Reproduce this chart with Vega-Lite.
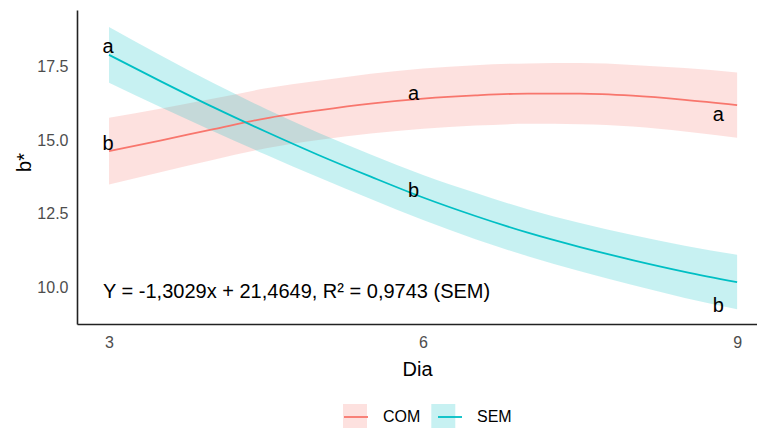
{
  "$schema": "https://vega.github.io/schema/vega-lite/v6.json",
  "width": 680,
  "height": 314,
  "autosize": {"type": "none"},
  "padding": {"left": 77, "top": 10, "right": 0, "bottom": 105},
  "background": "white",
  "config": {
    "view": {"stroke": null},
    "font": "Liberation Sans"
  },
  "datasets": {
    "curvas": [
      {"grupo": "COM", "dia": 3.0, "b": 14.63, "lo": 13.49, "hi": 15.77},
      {"grupo": "COM", "dia": 3.5, "b": 15.00, "lo": 13.92, "hi": 16.08},
      {"grupo": "COM", "dia": 4.0, "b": 15.38, "lo": 14.34, "hi": 16.42},
      {"grupo": "COM", "dia": 4.5, "b": 15.75, "lo": 14.73, "hi": 16.77},
      {"grupo": "COM", "dia": 5.0, "b": 16.02, "lo": 15.01, "hi": 17.03},
      {"grupo": "COM", "dia": 5.5, "b": 16.25, "lo": 15.23, "hi": 17.27},
      {"grupo": "COM", "dia": 6.0, "b": 16.42, "lo": 15.39, "hi": 17.45},
      {"grupo": "COM", "dia": 6.5, "b": 16.53, "lo": 15.50, "hi": 17.56},
      {"grupo": "COM", "dia": 7.0, "b": 16.59, "lo": 15.56, "hi": 17.62},
      {"grupo": "COM", "dia": 7.5, "b": 16.59, "lo": 15.55, "hi": 17.63},
      {"grupo": "COM", "dia": 8.0, "b": 16.52, "lo": 15.47, "hi": 17.57},
      {"grupo": "COM", "dia": 8.5, "b": 16.38, "lo": 15.30, "hi": 17.46},
      {"grupo": "COM", "dia": 9.0, "b": 16.20, "lo": 15.09, "hi": 17.31},
      {"grupo": "SEM", "dia": 3.0, "b": 17.91, "lo": 16.96, "hi": 18.86},
      {"grupo": "SEM", "dia": 3.5, "b": 17.00, "lo": 16.12, "hi": 17.88},
      {"grupo": "SEM", "dia": 4.0, "b": 16.12, "lo": 15.30, "hi": 16.94},
      {"grupo": "SEM", "dia": 4.5, "b": 15.29, "lo": 14.51, "hi": 16.07},
      {"grupo": "SEM", "dia": 5.0, "b": 14.50, "lo": 13.74, "hi": 15.26},
      {"grupo": "SEM", "dia": 5.5, "b": 13.76, "lo": 13.00, "hi": 14.52},
      {"grupo": "SEM", "dia": 6.0, "b": 13.05, "lo": 12.28, "hi": 13.82},
      {"grupo": "SEM", "dia": 6.5, "b": 12.42, "lo": 11.63, "hi": 13.21},
      {"grupo": "SEM", "dia": 7.0, "b": 11.85, "lo": 11.05, "hi": 12.65},
      {"grupo": "SEM", "dia": 7.5, "b": 11.36, "lo": 10.54, "hi": 12.18},
      {"grupo": "SEM", "dia": 8.0, "b": 10.92, "lo": 10.07, "hi": 11.77},
      {"grupo": "SEM", "dia": 8.5, "b": 10.52, "lo": 9.63, "hi": 11.41},
      {"grupo": "SEM", "dia": 9.0, "b": 10.17, "lo": 9.24, "hi": 11.10}
    ],
    "letras": [
      {"grupo": "SEM", "dia": 2.99, "b": 17.97, "letra": "a"},
      {"grupo": "COM", "dia": 2.99, "b": 14.66, "letra": "b"},
      {"grupo": "COM", "dia": 5.91, "b": 16.36, "letra": "a"},
      {"grupo": "SEM", "dia": 5.91, "b": 13.08, "letra": "b"},
      {"grupo": "COM", "dia": 8.82, "b": 15.65, "letra": "a"},
      {"grupo": "SEM", "dia": 8.82, "b": 9.16, "letra": "b"}
    ],
    "equacao": [
      {"dia": 2.943, "b": 9.615, "texto": "Y = -1,3029x + 21,4649, R² = 0,9743 (SEM)"}
    ]
  },
  "encoding": {
    "x": {
      "field": "dia",
      "type": "quantitative",
      "scale": {"domain": [2.694, 9.19], "nice": false, "zero": false},
      "axis": {
        "title": "Dia",
        "values": [3, 6, 9],
        "grid": false,
        "ticks": false,
        "tickSize": 0,
        "domainColor": "#222222",
        "domainWidth": 1.6,
        "labelFontSize": 16,
        "labelColor": "#4d4d4d",
        "labelPadding": 10,
        "titleFontSize": 20,
        "titleFontWeight": "normal",
        "titleColor": "#000000",
        "titleBaseline": "alphabetic",
        "titleY": 51
      }
    },
    "y": {
      "field": "b",
      "type": "quantitative",
      "scale": {"domain": [8.74, 19.44], "nice": false, "zero": false},
      "axis": {
        "title": "b*",
        "values": [10, 12.5, 15, 17.5],
        "format": ".1f",
        "grid": false,
        "ticks": false,
        "tickSize": 0,
        "domainColor": "#222222",
        "domainWidth": 1.6,
        "labelFontSize": 16,
        "labelColor": "#4d4d4d",
        "labelPadding": 9,
        "titleFontSize": 20,
        "titleFontWeight": "normal",
        "titleColor": "#000000",
        "titleBaseline": "alphabetic",
        "titleX": -47,
        "titleY": 152
      }
    }
  },
  "layer": [
    {
      "data": {"name": "curvas"},
      "mark": {"type": "area", "interpolate": "monotone", "fillOpacity": 0.22, "clip": true},
      "encoding": {
        "y": {"field": "lo", "type": "quantitative"},
        "y2": {"field": "hi"},
        "fill": {
          "field": "grupo",
          "type": "nominal",
          "scale": {"range": ["#F8766D", "#00BFC4"]},
          "legend": {
            "orient": "none",
            "legendX": 266,
            "legendY": 394,
            "direction": "horizontal",
            "title": null,
            "padding": 0,
            "symbolType": "square",
            "symbolSize": 576,
            "symbolOpacity": 0.22,
            "symbolStrokeWidth": 0,
            "labelExpr": "''",
            "labelFontSize": 16,
            "labelOffset": 0,
            "columnPadding": 64.3,
            "zindex": 0
          }
        }
      }
    },
    {
      "data": {"name": "curvas"},
      "mark": {"type": "line", "interpolate": "monotone", "strokeWidth": 1.8, "clip": true},
      "encoding": {
        "stroke": {
          "field": "grupo",
          "type": "nominal",
          "scale": {"domain": ["COM", "SEM"], "range": ["#F8766D", "#00BFC4"]},
          "legend": {
            "orient": "none",
            "legendX": 266,
            "legendY": 394,
            "direction": "horizontal",
            "title": null,
            "padding": 0,
            "symbolType": "stroke",
            "symbolSize": 576,
            "symbolStrokeWidth": 1.8,
            "labelFontSize": 16,
            "labelColor": "#000000",
            "labelOffset": 14,
            "columnPadding": 13,
            "zindex": 1
          }
        }
      }
    },
    {
      "data": {"name": "letras"},
      "mark": {"type": "text", "fontSize": 20, "color": "#000000", "align": "center", "baseline": "alphabetic"},
      "encoding": {
        "text": {"field": "letra"}
      }
    },
    {
      "data": {"name": "equacao"},
      "mark": {"type": "text", "fontSize": 20, "color": "#000000", "align": "left", "baseline": "alphabetic"},
      "encoding": {
        "text": {"field": "texto"}
      }
    }
  ]
}
